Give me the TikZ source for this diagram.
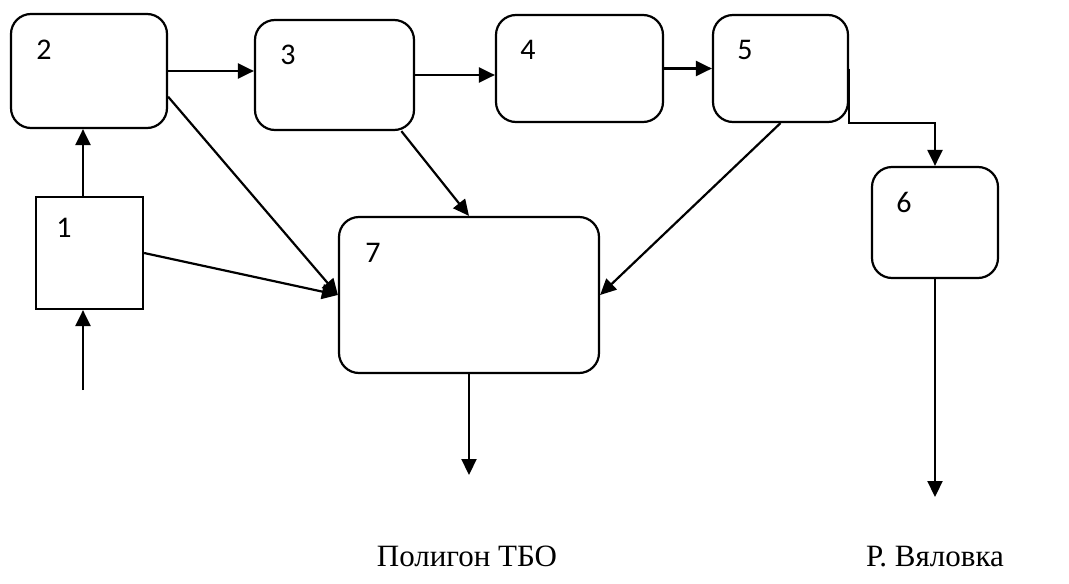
\documentclass[tikz,border=0pt]{standalone}
\usepackage{fontspec}
\setmainfont{Liberation Serif}
\newfontfamily\labelfont{Carlito}
\usetikzlibrary{arrows.meta}

\begin{document}
\begin{tikzpicture}[x=1pt, y=-1pt]
\useasboundingbox (0,0) rectangle (1069,584);
\begin{scope}[every node/.style = {draw, line width=2.2pt, inner sep=0pt, rounded corners=20pt}]
\node[sharp corners, minimum width=107pt, minimum height=112pt] (b1) at (89.5, 253) {};
\node[minimum width=156pt, minimum height=114pt] (b2) at (89, 71) {};
\node[minimum width=159pt, minimum height=110pt] (b3) at (334.5, 75) {};
\node[minimum width=167pt, minimum height=107pt] (b4) at (579.5, 68.5) {};
\node[minimum width=135pt, minimum height=107pt] (b5) at (780.5, 68.5) {};
\node[minimum width=126pt, minimum height=111pt] (b6) at (935, 222.5) {};
\node[minimum width=260pt, minimum height=156pt] (b7) at (469, 295) {};
\end{scope}
\begin{scope}[every node/.style = {font=\labelfont\fontsize{30}{34}\selectfont, inner sep=0pt}]
\node (n1) at (64, 228) {1};
\node (n2) at (44, 50) {2};
\node (n3) at (288, 55) {3};
\node (n4) at (528, 50) {4};
\node (n5) at (745, 50) {5};
\node (n6) at (904, 202) {6};
\node (n7) at (373, 253) {7};
\end{scope}
\begin{scope}[every node/.style = {font=\fontsize{31}{35}\selectfont, inner sep=0pt, anchor=base}]
\node (landfill) at (467, 566) {Полигон ТБО};
\node (river) at (935, 566) {Р. Вяловка};
\end{scope}
\coordinate (in1) at (83, 390);
\coordinate (out7) at (469, 475);
\coordinate (out6) at (935, 497);
\begin{scope}[every edge/.style = {draw, line width=2.2pt, -{Triangle[length=16pt, width=15pt]}}]
\path (in1) edge (in1 |- b1.south);
\path (b1.north -| in1) edge (b2.south -| in1);
\path (b2.east) edge (b2.east -| b3.west);
\path (b3.east) edge (b3.east -| b4.west);
\path (b4.east) edge (b4.east -| b5.west);
\path (b2.-18) edge (b7.west);
\path (b1.east) edge (b7.west);
\path (b3.-40) edge (b7.north);
\path (b5.south) edge (b7.east);
\path (b7.south) edge (out7);
\path (b6.south) edge (out6);
\end{scope}
\draw[line width=2.2pt, -{Triangle[length=16pt, width=15pt]}] (b5.east) -- (b5.south east) -| (b6.north);
\end{tikzpicture}
\end{document}
